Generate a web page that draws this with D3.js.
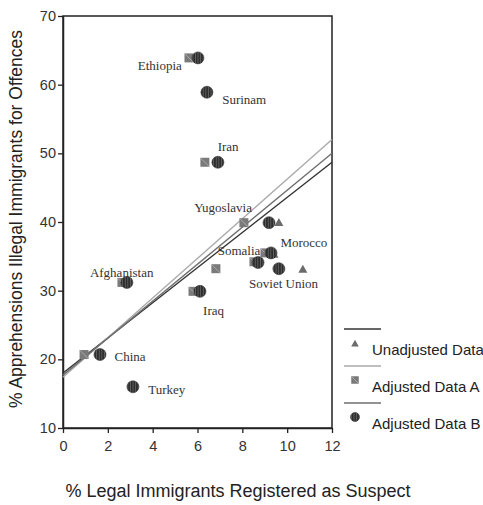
<!DOCTYPE html>
<html>
<head>
<meta charset="utf-8">
<script src="https://cdn.jsdelivr.net/npm/d3@7"></script>
<style>
  body { margin: 0; background: #fff; }
  svg { display: block; }
</style>
</head>
<body>
<div id="chart"></div>
<script>
// Unadjusted data (triangles) - only visible ones
const triCountries = ['Yugoslavia', 'Somalia', 'Soviet Union'];
const triX = [9.63, 9.41, 10.70];
const triY = [40.0, 35.4, 33.2];

// Adjusted data A (squares)
const sqCountries = ['Ethiopia', 'Iran', 'Yugoslavia', 'Somalia', 'Morocco', 'Soviet Union', 'Iraq', 'Afghanistan', 'China'];
const sqX = [5.62, 6.33, 8.07, 9.01, 8.52, 6.82, 5.80, 2.63, 0.94];
const sqY = [63.9, 48.7, 39.9, 35.5, 34.2, 33.2, 29.9, 31.2, 20.7];

// Adjusted data B (circles)
const ciCountries = ['Ethiopia', 'Surinam', 'Iran', 'Yugoslavia', 'Somalia', 'Morocco', 'Soviet Union', 'Iraq', 'Afghanistan', 'China', 'Turkey'];
const ciX = [6.02, 6.42, 6.91, 9.19, 9.28, 8.70, 9.63, 6.11, 2.85, 1.65, 3.12];
const ciY = [63.9, 58.9, 48.7, 39.9, 35.5, 34.1, 33.2, 29.9, 31.2, 20.7, 16.0];

// Fitted lines: value at x=0 and x=12
const fitNames = ['Unadjusted Data', 'Adjusted Data A', 'Adjusted Data B'];
const fitStart = [18.0, 17.4, 17.7];
const fitEnd = [48.7, 52.0, 50.0];
const fitColors = ['#333', '#aaa', '#6f6f6f'];

// Country labels (anchor data coords)
const labelText = ['Ethiopia', 'Surinam', 'Iran', 'Yugoslavia', 'Morocco', 'Somalia', 'Soviet Union', 'Iraq', 'Afghanistan', 'China', 'Turkey'];
const labelX = [5.3, 7.1, 6.9, 5.85, 9.7, 6.9, 8.3, 6.25, 1.2, 2.3, 3.8];
const labelY = [62.1, 57.2, 50.3, 41.4, 36.4, 35.2, 30.4, 26.5, 32.0, 19.7, 14.9];
const labelAnchor = ['end', 'start', 'start', 'start', 'start', 'start', 'start', 'start', 'start', 'start', 'start'];

const xTicks = [0, 2, 4, 6, 8, 10, 12];
const yTicks = [10, 20, 30, 40, 50, 60, 70];

const width = 483, height = 505;
const margin = { left: 63, right: 151, top: 16, bottom: 77 };

const svg = d3.select('#chart').append('svg')
    .attr('width', width)
    .attr('height', height);

const defs = svg.append('defs');
const pat = defs.append('pattern')
    .attr('id', 'hatch')
    .attr('patternUnits', 'userSpaceOnUse')
    .attr('width', 2.6)
    .attr('height', 4);
pat.append('rect').attr('width', 2.6).attr('height', 4).attr('fill', '#2e2e2e');
pat.append('rect').attr('width', 0.8).attr('height', 4).attr('fill', '#666');

const x = d3.scaleLinear().domain([0, 12]).range([margin.left, width - margin.right]);
const y = d3.scaleLinear().domain([10, 70]).range([height - margin.bottom, margin.top]);

// frame
svg.append('rect')
    .attr('x', x(0)).attr('y', y(70))
    .attr('width', x(12) - x(0)).attr('height', y(10) - y(70))
    .attr('fill', 'none').attr('stroke', '#222').attr('stroke-width', 1.5);

const xAxis = svg.append('g')
    .attr('transform', `translate(0,${y(10)})`)
    .call(d3.axisBottom(x).tickValues(xTicks).tickSize(5).tickSizeOuter(0));
const yAxis = svg.append('g')
    .attr('transform', `translate(${x(0)},0)`)
    .call(d3.axisLeft(y).tickValues(yTicks).tickSize(5).tickSizeOuter(0));

[xAxis, yAxis].forEach(a => {
    a.select('.domain').attr('stroke', '#222').attr('stroke-width', 1.5);
    a.selectAll('.tick line').attr('stroke', '#222').attr('stroke-width', 1.3);
    a.selectAll('.tick text')
        .attr('font-family', 'Liberation Sans, Arial, sans-serif')
        .attr('font-size', 14.5)
        .attr('fill', '#333');
});
xAxis.selectAll('.tick text').attr('dy', '1.05em');
yAxis.selectAll('.tick text').attr('x', -7);

// fit lines
svg.append('g')
    .selectAll('line')
    .data(fitStart)
    .join('line')
    .attr('x1', x(0))
    .attr('y1', d => y(d))
    .attr('x2', x(12))
    .attr('y2', (d, i) => y(fitEnd[i]))
    .attr('stroke', (d, i) => fitColors[i])
    .attr('stroke-width', 1.4);

function drawTriangle(g, cx, cy, s) {
    const h = s * 0.9;
    g.append('path')
        .attr('d', `M${cx},${cy - h / 2}L${cx + s / 2},${cy + h / 2}L${cx - s / 2},${cy + h / 2}Z`)
        .attr('fill', '#6b6b6b');
}
function drawSquare(g, cx, cy, s) {
    g.append('rect')
        .attr('x', cx - s / 2).attr('y', cy - s / 2)
        .attr('width', s).attr('height', s)
        .attr('fill', '#7a7a7a');
    g.append('line')
        .attr('x1', cx - s / 2).attr('y1', cy - s / 2)
        .attr('x2', cx + s / 2).attr('y2', cy + s / 2)
        .attr('stroke', '#b5b5b5').attr('stroke-width', 0.8);
}
function drawCircle(g, cx, cy, r) {
    g.append('circle')
        .attr('cx', cx).attr('cy', cy).attr('r', r)
        .attr('fill', 'url(#hatch)')
        .attr('stroke', '#333').attr('stroke-width', 0.6);
}

const marks = svg.append('g');
triX.forEach((v, i) => drawTriangle(marks, x(v), y(triY[i]), 9));
sqX.forEach((v, i) => drawSquare(marks, x(v), y(sqY[i]), 9));
ciX.forEach((v, i) => drawCircle(marks, x(v), y(ciY[i]), 6));

// country labels
svg.append('g')
    .selectAll('text')
    .data(labelText)
    .join('text')
    .attr('x', (d, i) => x(labelX[i]))
    .attr('y', (d, i) => y(labelY[i]))
    .attr('text-anchor', (d, i) => labelAnchor[i])
    .attr('font-family', 'Liberation Serif, Times New Roman, serif')
    .attr('font-size', 13)
    .attr('fill', '#333')
    .text(d => d);

// axis titles
svg.append('text')
    .attr('x', 238)
    .attr('y', 497)
    .attr('text-anchor', 'middle')
    .attr('font-family', 'Liberation Sans, Arial, sans-serif')
    .attr('font-size', 18)
    .attr('fill', '#222')
    .text('% Legal Immigrants Registered as Suspect');

svg.append('text')
    .attr('transform', `translate(22,${(y(10) + y(70)) / 2 - 3}) rotate(-90)`)
    .attr('text-anchor', 'middle')
    .attr('font-family', 'Liberation Sans, Arial, sans-serif')
    .attr('font-size', 17.5)
    .attr('fill', '#222')
    .text('% Apprehensions Illegal Immigrants for Offences');

// legend
const legendY = [329, 366, 403];
const legend = svg.append('g');
fitNames.forEach((name, i) => {
    legend.append('line')
        .attr('x1', 344).attr('x2', 381)
        .attr('y1', legendY[i]).attr('y2', legendY[i])
        .attr('stroke', fitColors[i]).attr('stroke-width', 1.4);
    const my = legendY[i] + 14;
    if (i === 0) drawTriangle(legend, 355, my, 7.5);
    if (i === 1) drawSquare(legend, 355, my, 7.5);
    if (i === 2) drawCircle(legend, 355, my, 4.5);
    legend.append('text')
        .attr('x', 372)
        .attr('y', legendY[i] + 26)
        .attr('font-family', 'Liberation Sans, Arial, sans-serif')
        .attr('font-size', 15)
        .attr('fill', '#222')
        .text(name);
});
</script>
</body>
</html>
